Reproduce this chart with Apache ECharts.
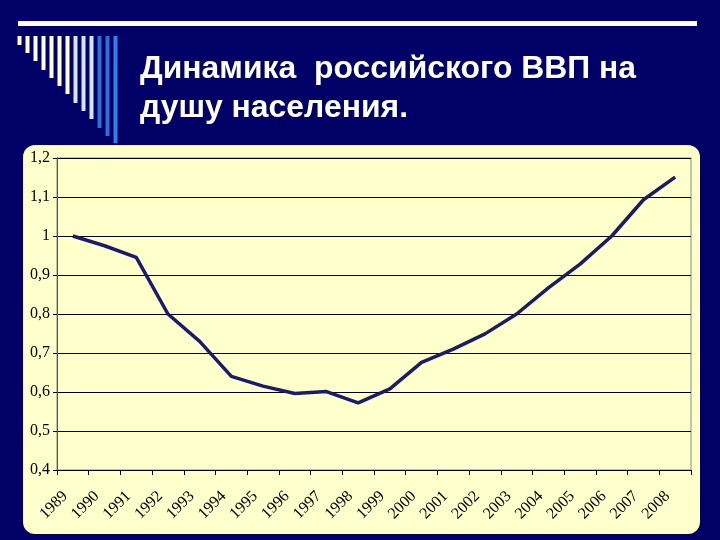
<!DOCTYPE html>
<html>
<head>
<meta charset="utf-8">
<script src="https://cdn.jsdelivr.net/npm/echarts@6/dist/echarts.min.js"></script>
<style>html,body{margin:0;padding:0;background:#000066;}#c{width:720px;height:540px;}</style>
</head>
<body>
<div id="c"></div>
<script>
const years = ['1989','1990','1991','1992','1993','1994','1995','1996','1997','1998','1999','2000','2001','2002','2003','2004','2005','2006','2007','2008'];
const gdpPerCapita = [1.0,0.975,0.945,0.80,0.73,0.64,0.615,0.596,0.601,0.572,0.608,0.676,0.71,0.749,0.80,0.867,0.928,1.0,1.093,1.151];
const titleLines = ['Динамика  российского ВВП на', 'душу населения.'];

// decorative stripes (top-left ornament)
const stripeBottoms = [45,53,61,70,78,86,94,103,111,119,128,136,143];
const stripeColors = ['#ffffcc','#ffffe6','#ffffee','#ffffff','#ffffdd','#ffffdd','#ffffdd','#d6e4ff','#d6e4ff','#d6e4ff','#2f6fd8','#2f6fd8','#3380e8'];
const graphics = [
  {type:'rect', z:-10, shape:{x:23,y:145,width:677,height:389,r:12}, style:{fill:'#ffffcc'}},
  {type:'rect', z:-10, shape:{x:18,y:21,width:679,height:5}, style:{fill:'#ffffff'}}
];
stripeBottoms.forEach((b,i)=>{
  graphics.push({type:'rect', z:-10, shape:{x:17.5+i*8.0,y:36,width:4,height:b-36}, style:{fill:stripeColors[i]}});
});
titleLines.forEach((t,i)=>{
  graphics.push({type:'text', z:10, x:140, y:[69,108][i], scaleX:1.1, scaleY:1.08,
    style:{text:t, x:0, y:0, fill:'#ffffff', font:'bold 29px "Liberation Sans", Arial, sans-serif', align:'left', verticalAlign:'middle'}});
});

const chart = echarts.init(document.getElementById('c'));
chart.setOption({
  backgroundColor:'#000066',
  animation:false,
  graphic: graphics,
  grid:{left:57, right:29, top:158, bottom:70, show:true, borderColor:'#888888', borderWidth:1, backgroundColor:'transparent'},
  xAxis:{
    type:'category', data:years, boundaryGap:true,
    axisLine:{lineStyle:{color:'#000', width:1}},
    axisTick:{show:true, length:5, lineStyle:{color:'#000'}},
    axisLabel:{rotate:45, interval:0, fontFamily:'Liberation Serif', fontSize:16, color:'#000', margin:16, padding:[0,11,0,0]}
  },
  yAxis:{
    type:'value', min:0.4, max:1.2, interval:0.1,
    axisLine:{show:true, lineStyle:{color:'#555', width:1}},
    axisTick:{show:true, length:4, lineStyle:{color:'#000'}},
    splitLine:{show:true, lineStyle:{color:'#000', width:1}},
    axisLabel:{fontFamily:'Liberation Serif', fontSize:16, color:'#000', margin:7,
      formatter: v => { const r = Math.round(v*10)/10; return r===1 ? '1' : r.toFixed(1).replace('.', ','); }}
  },
  series:[{
    type:'line', data:gdpPerCapita, showSymbol:false, symbol:'none',
    lineStyle:{color:'#1a1a70', width:3.5}
  }]
});
</script>
</body>
</html>
